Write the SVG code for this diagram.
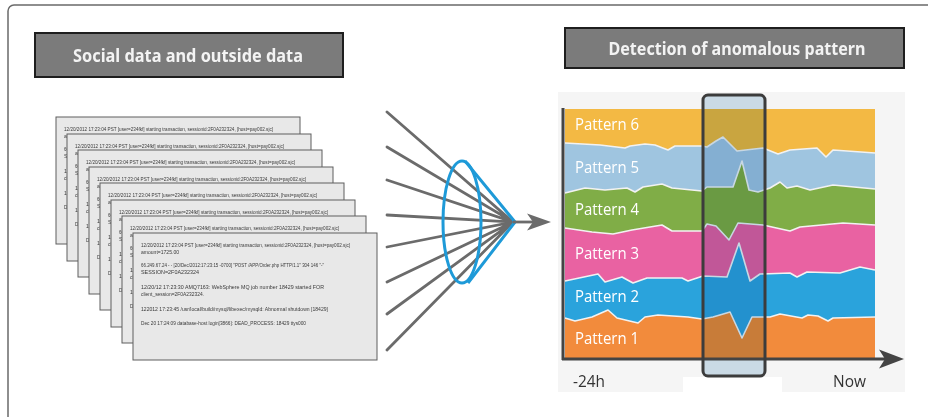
<svg xmlns="http://www.w3.org/2000/svg" xmlns:xlink="http://www.w3.org/1999/xlink" width="928" height="417" viewBox="0 0 928 417">
  <style>
    .title-box { fill: #7b7b7b; stroke: #1e1e1e; stroke-width: 2; }
    .title { font-family: "Noto Sans", "Open Sans", sans-serif; font-weight: bold; font-size: 17px; fill: #f3f3f3; text-anchor: middle; }
    .sheet { fill: #e8e8e8; stroke: #5e5e5e; stroke-width: 1; }
    .log { font-family: "Liberation Sans", Arial, sans-serif; font-size: 5.6px; fill: #3a3a3a; }
    .ray { stroke: #6b6b6b; stroke-width: 2.8; stroke-linecap: round; fill: none; }
    .lens { stroke: #1e9ad8; stroke-width: 3; fill: none; stroke-linejoin: round; }
    .edge { fill: none; stroke: #f2f2f2; stroke-width: 1.6; stroke-linejoin: round; }
    .plabel { font-family: "Open Sans", "Noto Sans", sans-serif; font-size: 16.5px; fill: #ffffff; }
    .axis-label { font-family: "Open Sans", "Noto Sans", sans-serif; font-size: 17px; fill: #333333; }
  </style>
  <defs>
    <!-- log lines shared by every sheet, positioned relative to the sheet's top-left corner -->
    <g id="logText" class="log">
      <text x="8" y="14" textLength="209" lengthAdjust="spacingAndGlyphs">12/20/2012 17:23:04 PST [user=234fkf] starting transaction, sessionid:2F0A232324, [host=pay002.sjc]</text>
      <text x="8" y="21" textLength="38" lengthAdjust="spacingAndGlyphs">amount=1725.00</text>
      <text x="8" y="34" textLength="183" lengthAdjust="spacingAndGlyphs">66.249.67.24 - - [20/Dec/2012:17:23:15 -0700] "POST /APP/Order.php HTTP/1.1" 304 146 "-"</text>
      <text x="8" y="41" textLength="58" lengthAdjust="spacingAndGlyphs">SESSION=2F0A232324</text>
      <text x="8" y="56" textLength="183" lengthAdjust="spacingAndGlyphs">12/20/12 17:23:30 AMQ7163: WebSphere MQ job number 18429 started FOR</text>
      <text x="8" y="63" textLength="63" lengthAdjust="spacingAndGlyphs">client_session=2F0A232324.</text>
      <text x="8" y="78" textLength="187" lengthAdjust="spacingAndGlyphs">122012 17:23:45 /usr/local/build/mysql/libexec/mysqld: Abnormal shutdown [18429]</text>
      <text x="8" y="92" textLength="165" lengthAdjust="spacingAndGlyphs">Dec 20 17:24:09 database-host login[3866]: DEAD_PROCESS: 18429 ttys000</text>
    </g>
  </defs>

  <!-- outer frame -->
  <rect x="8" y="5" width="940" height="440" rx="6" fill="#ffffff" stroke="#6a6a6a" stroke-width="1.5"/>

  <!-- headings -->
  <g id="title-left">
    <rect class="title-box" x="35" y="33" width="308" height="44"/>
    <text class="title" x="188" y="62" textLength="230" lengthAdjust="spacingAndGlyphs">Social data and outside data</text>
  </g>
  <g id="title-right">
    <rect class="title-box" x="565" y="28" width="339" height="40"/>
    <text class="title" x="737" y="55" textLength="257" lengthAdjust="spacingAndGlyphs">Detection of anomalous pattern</text>
  </g>

  <!-- stack of log sheets, back to front -->
  <g id="log-stack">
    <g id="sheet-1" transform="translate(56,117)"><rect class="sheet" width="244" height="127"/><use xlink:href="#logText"/></g>
    <g id="sheet-2" transform="translate(67,134)"><rect class="sheet" width="244" height="127"/><use xlink:href="#logText"/></g>
    <g id="sheet-3" transform="translate(78,150)"><rect class="sheet" width="244" height="127"/><use xlink:href="#logText"/></g>
    <g id="sheet-4" transform="translate(89,167)"><rect class="sheet" width="244" height="127"/><use xlink:href="#logText"/></g>
    <g id="sheet-5" transform="translate(100,183)"><rect class="sheet" width="244" height="127"/><use xlink:href="#logText"/></g>
    <g id="sheet-6" transform="translate(111,200)"><rect class="sheet" width="244" height="127"/><use xlink:href="#logText"/></g>
    <g id="sheet-7" transform="translate(122,216)"><rect class="sheet" width="244" height="127"/><use xlink:href="#logText"/></g>
    <g id="sheet-8" transform="translate(133,233)"><rect class="sheet" width="244" height="127"/><use xlink:href="#logText"/></g>
  </g>

  <!-- converging rays, lens and output arrow -->
  <g id="connectors">
    <path class="ray" d="M387,112 L513,222 M387,147 L513,222 M387,180 L513,222 M387,215 L513,222 M387,247 L513,222 M387,282 L513,222 M387,314 L513,222 M387,350 L513,222"/>
    <ellipse class="lens" cx="462" cy="222" rx="19" ry="61"/>
    <path class="lens" d="M465,161 L515,222 L468,283"/>
    <line x1="513" y1="222" x2="536" y2="222" stroke="#6b6b6b" stroke-width="2.8"/>
    <polygon points="551,222 527,213.5 533,222 527,230.5" fill="#6b6b6b"/>
  </g>

  <!-- stream chart of patterns -->
  <g id="pattern-chart">
    <rect x="558" y="92" width="347" height="300" fill="#f5f5f5"/>
    <rect x="683" y="377" width="99" height="20" fill="#ffffff"/>

    <g id="bands">
      <rect x="565" y="109" width="310" height="250" fill="#f3b944"/>
      <path fill="#9fc5e0" d="M565,143 L600,145 L625,148 L630,146 L645,144 L655,145 L668,150 L675,146 L702,146 L707,147 L716,141 L723,137 L737,151 L763,148 L778,154 L790,150 L817,148 L826,157 L833,150 L875,153 L875,359 L565,359 Z"/>
      <path fill="#80ad47" d="M565,193 L585,188 L605,190 L627,188 L635,192 L643,187 L662,184 L672,188 L702,191 L707,187 L733,187 L742,161 L749,190 L758,192 L770,188 L780,182 L787,188 L797,186 L810,190 L833,185 L875,189 L875,359 L565,359 Z"/>
      <path fill="#e962a2" d="M565,228 L592,232 L613,234 L632,230 L662,225 L672,231 L702,231 L707,224 L716,226 L729,240 L738,223 L763,225 L790,231 L800,227 L843,223 L875,225 L875,359 L565,359 Z"/>
      <path fill="#2aa3dc" d="M565,281 L598,274 L605,282 L622,277 L633,283 L647,278 L682,278 L688,281 L703,276 L727,277 L739,243 L750,281 L760,274 L790,273 L797,277 L807,272 L840,273 L860,267 L875,270 L875,359 L565,359 Z"/>
      <path fill="#f28b3c" d="M565,318 L575,321 L592,317 L608,310 L617,318 L638,323 L645,317 L658,315 L688,317 L702,319 L713,317 L730,312 L742,338 L752,317 L770,317 L780,314 L802,318 L808,315 L818,316 L828,321 L833,318 L875,317 L875,359 L565,359 Z"/>
    </g>
    <g id="band-edges">
      <path class="edge" d="M565,143 L600,145 L625,148 L630,146 L645,144 L655,145 L668,150 L675,146 L702,146 L707,147 L716,141 L723,137 L737,151 L763,148 L778,154 L790,150 L817,148 L826,157 L833,150 L875,153"/>
      <path class="edge" d="M565,193 L585,188 L605,190 L627,188 L635,192 L643,187 L662,184 L672,188 L702,191 L707,187 L733,187 L742,161 L749,190 L758,192 L770,188 L780,182 L787,188 L797,186 L810,190 L833,185 L875,189"/>
      <path class="edge" d="M565,228 L592,232 L613,234 L632,230 L662,225 L672,231 L702,231 L707,224 L716,226 L729,240 L738,223 L763,225 L790,231 L800,227 L843,223 L875,225"/>
      <path class="edge" d="M565,281 L598,274 L605,282 L622,277 L633,283 L647,278 L682,278 L688,281 L703,276 L727,277 L739,243 L750,281 L760,274 L790,273 L797,277 L807,272 L840,273 L860,267 L875,270"/>
      <path class="edge" d="M565,318 L575,321 L592,317 L608,310 L617,318 L638,323 L645,317 L658,315 L688,317 L702,319 L713,317 L730,312 L742,338 L752,317 L770,317 L780,314 L802,318 L808,315 L818,316 L828,321 L833,318 L875,317"/>
    </g>

    <g id="band-labels">
      <text class="plabel" x="575" y="130" textLength="64" lengthAdjust="spacingAndGlyphs">Pattern 6</text>
      <text class="plabel" x="575" y="173" textLength="64" lengthAdjust="spacingAndGlyphs">Pattern 5</text>
      <text class="plabel" x="575" y="215" textLength="64" lengthAdjust="spacingAndGlyphs">Pattern 4</text>
      <text class="plabel" x="575" y="259" textLength="64" lengthAdjust="spacingAndGlyphs">Pattern 3</text>
      <text class="plabel" x="575" y="302" textLength="64" lengthAdjust="spacingAndGlyphs">Pattern 2</text>
      <text class="plabel" x="575" y="344" textLength="64" lengthAdjust="spacingAndGlyphs">Pattern 1</text>
    </g>

    <!-- highlighted time window -->
    <g id="time-window">
      <rect x="703" y="95" width="62" height="281" rx="5" fill="#d3e3ef" style="mix-blend-mode:multiply"/>
    </g>

    <g id="axes">
      <line x1="563" y1="108" x2="563" y2="360" stroke="#444444" stroke-width="3"/>
      <line x1="562" y1="359" x2="890" y2="359" stroke="#444444" stroke-width="3"/>
      <polygon points="904,359 879,349.5 885,359 879,368.5" fill="#444444"/>
    </g>

    <rect x="703" y="95" width="62" height="281" rx="5" fill="none" stroke="#3c3c3c" stroke-width="3"/>

    <text class="axis-label" x="573" y="387" textLength="32" lengthAdjust="spacingAndGlyphs">-24h</text>
    <text class="axis-label" x="833" y="387" textLength="33" lengthAdjust="spacingAndGlyphs">Now</text>
  </g>
</svg>
